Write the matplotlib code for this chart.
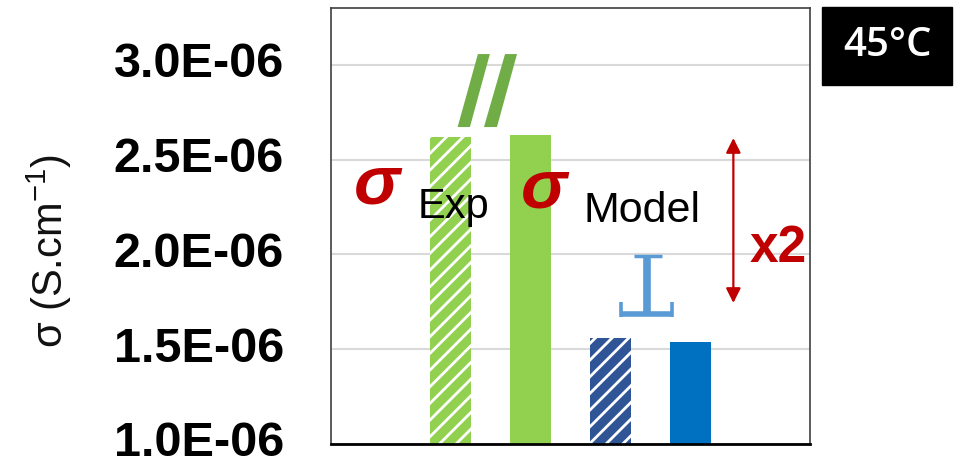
import matplotlib
matplotlib.use("Agg")
import matplotlib.pyplot as plt
from matplotlib.patches import Polygon, Rectangle
from matplotlib.transforms import ScaledTranslation

plt.rcParams['font.family'] = ['Liberation Sans', 'DejaVu Sans']
plt.rcParams['mathtext.fontset'] = 'custom'
plt.rcParams['mathtext.rm'] = 'Liberation Sans'
plt.rcParams['hatch.linewidth'] = 2.0

# data
positions = [0, 1, 2, 3]
values = [2.621e-06, 2.630e-06, 1.559e-06, 1.538e-06]
colors = ['#92D050', '#92D050', '#2F5597', '#0070C0']
hatches = ['//', '', '//', '']
yticks = [1.0e-06, 1.5e-06, 2.0e-06, 2.5e-06, 3.0e-06]
ytick_labels = ['1.0E-06', '1.5E-06', '2.0E-06', '2.5E-06', '3.0E-06']

RED = '#C00000'

fig = plt.figure(figsize=(9.61, 4.66), dpi=100)
ax = fig.add_axes([331 / 961, 1 - 444 / 466, 479 / 961, 436 / 466])

for x, v, c, h in zip(positions, values, colors, hatches):
    if h:
        ax.bar(x, v, width=0.51, color=c, edgecolor='white', linewidth=0, hatch=h, zorder=2)
    else:
        ax.bar(x, v, width=0.51, color=c, linewidth=0, zorder=2)

ax.set_xlim(-1.5, 4.5)
ax.set_ylim(1.0e-06, 3.3e-06)
ax.set_xticks([])
ax.set_yticks(yticks)
ax.set_yticklabels(ytick_labels, fontsize=35, fontweight='bold')
ax.tick_params(axis='y', length=0, pad=34)
# nudge tick labels up a little, like the original
shift = ScaledTranslation(0, 5 / 100, fig.dpi_scale_trans)
for lab in ax.get_yticklabels():
    lab.set_transform(lab.get_transform() + shift)
ax.yaxis.grid(True, color='#D9D9D9', linewidth=1.5)
ax.set_axisbelow(True)
for s in ['left', 'top', 'right']:
    ax.spines[s].set_color('#404040')
    ax.spines[s].set_linewidth(1.2)
ax.spines['bottom'].set_color('black')
ax.spines['bottom'].set_linewidth(2)

# sigma labels
ax.text(-0.92, 2.271e-06, 'σ', color=RED, fontsize=50, fontweight='bold',
        fontstyle='italic', ha='center', va='baseline')
ax.text(-0.42, 2.192e-06, 'Exp', color='black', fontsize=30, ha='left', va='baseline')
ax.text(1.17, 2.250e-06, 'σ', color=RED, fontsize=50, fontweight='bold',
        fontstyle='italic', ha='center', va='baseline')
ax.text(1.66, 2.171e-06, 'Model', color='black', fontsize=31, ha='left', va='baseline')

# break marks "//"
for xs in [(0.086, 0.24, 0.49, 0.34), (0.416, 0.579, 0.83, 0.68)]:
    ax.add_patch(Polygon([(xs[0], 2.672e-06), (xs[1], 2.672e-06),
                          (xs[2], 3.057e-06), (xs[3], 3.057e-06)],
                         closed=True, color='#70AD47', lw=0, zorder=3))

# perpendicular symbol
BLUE = '#5B9BD5'
ax.plot([2.46, 2.46], [1.675e-06, 1.99e-06], color=BLUE, lw=5.5, solid_capstyle='butt')
ax.plot([2.29, 2.64], [1.99e-06, 1.99e-06], color=BLUE, lw=2.5, solid_capstyle='butt')
ax.plot([2.12, 2.79], [1.685e-06, 1.685e-06], color=BLUE, lw=4, solid_capstyle='butt')
ax.plot([2.135, 2.135], [1.672e-06, 1.75e-06], color=BLUE, lw=2.6, solid_capstyle='butt')
ax.plot([2.775, 2.775], [1.672e-06, 1.75e-06], color=BLUE, lw=2.6, solid_capstyle='butt')

# x2 arrow
ax.annotate('', xy=(3.54, 2.614e-06), xytext=(3.54, 1.744e-06),
            arrowprops=dict(arrowstyle='<|-|>', color=RED, lw=1.6,
                            mutation_scale=22, shrinkA=0, shrinkB=0))
ax.text(3.75, 1.960e-06, 'x2', color=RED, fontsize=37, fontweight='bold',
        ha='left', va='baseline')

# y label
fig.text(49 / 961, 1 - 251 / 466, 'σ (S.cm$^{\\mathregular{-1}}$)', rotation=90,
         fontsize=30, color='#111111', ha='center', va='center')

# temperature box
fig.patches.append(Rectangle((822 / 961, 1 - 85 / 466), 130 / 961, 78 / 466,
                             transform=fig.transFigure, color='black', zorder=5))
fig.text(887 / 961, 1 - 56 / 466, '45°C', color='white', fontsize=29,
         family=['Open Sans', 'DejaVu Sans'], fontweight='semibold',
         ha='center', va='baseline', zorder=6)

fig.savefig('out.png', dpi=100)
